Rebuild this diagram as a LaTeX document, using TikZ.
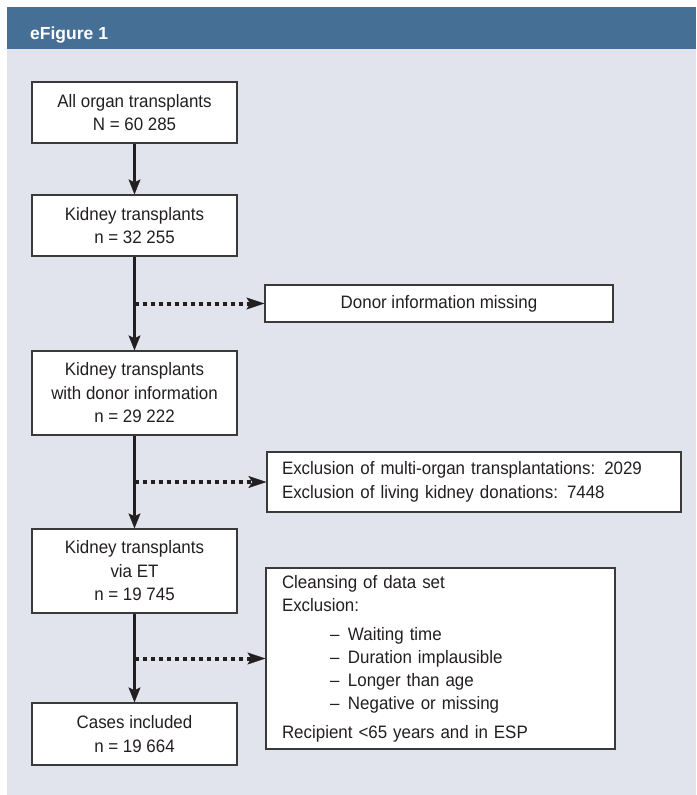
\documentclass[tikz,border=0pt]{standalone}
\usepackage{fontspec}
\setmainfont{Liberation Sans}
\newfontfamily\boxfont{Liberation Sans}[FakeStretch=0.94]
\usetikzlibrary{arrows.meta}
\definecolor{hdr}{HTML}{466F96}
\definecolor{bg}{HTML}{E1E4ED}
\definecolor{ink}{HTML}{231F20}
\definecolor{edge}{HTML}{3A3A3A}
\begin{document}
\begin{tikzpicture}[x=1pt,y=-1pt,
  box/.style={draw=edge, line width=1.3pt, fill=white, text=ink, align=center, inner sep=0pt,
    font=\boxfont\fontsize{18}{23.5}\selectfont},
  mainbox/.style={box, minimum width=205pt},
  mainarrow/.style={draw=ink, line width=3.5pt, -{Stealth[length=15pt,width=12pt,inset=3pt,line width=0.3pt]}},
  dotarrow/.style={draw=ink, line width=4pt, dash pattern=on 4pt off 4pt,
    -{Stealth[length=18pt,width=12pt,inset=4pt,line width=0.3pt]}},
]
\useasboundingbox (0,0) rectangle (696,795);
\fill[white] (0,0) rectangle (696,795);
\fill[bg] (7,49) rectangle (696,795);
\fill[hdr] (7,7) rectangle (696,49);
\node[anchor=base west, inner sep=0pt, text=white, font=\fontsize{17.5}{20}\selectfont\bfseries] (title) at (30,39) {eFigure 1};

\node[mainbox, minimum height=61pt] (b1) at (134.5,112.5) {All organ transplants\\N = 60 285};
\node[mainbox, minimum height=61pt] (b2) at (134.5,225.5) {Kidney transplants\\n = 32 255};
\node[mainbox, minimum height=84pt] (b3) at (134.5,393) {Kidney transplants\\with donor information\\n = 29 222};
\node[mainbox, minimum height=84pt] (b4) at (134.5,571) {Kidney transplants\\via ET\\n = 19 745};
\node[mainbox, minimum height=62pt] (b5) at (134.5,734) {Cases included\\n = 19 664};

\node[box, minimum width=348pt, minimum height=37pt] (miss) at (439,303.5) {Donor information missing};
\node[box, minimum width=414pt, minimum height=60pt, text width=384pt, align=left] (excl) at (474,482)
  {Exclusion of multi-organ transplantations: 2029\\Exclusion of living kidney donations: 7448};
\node[box, minimum width=349pt, minimum height=181pt, text width=317pt, align=left,
  font=\boxfont\fontsize{18}{23}\selectfont] (clean) at (440.5,658.5)
  {Cleansing of data set\\Exclusion:\\[6pt]
   \hspace*{48pt}\makebox[18pt][l]{–}Waiting time\\
   \hspace*{48pt}\makebox[18pt][l]{–}Duration implausible\\
   \hspace*{48pt}\makebox[18pt][l]{–}Longer than age\\
   \hspace*{48pt}\makebox[18pt][l]{–}Negative or missing\\[6pt]
   Recipient <65 years and in ESP};

\draw[mainarrow] (b1.south) -- (b2.north);
\draw[mainarrow] (b2.south) -- (b3.north);
\draw[mainarrow] (b3.south) -- (b4.north);
\draw[mainarrow] (b4.south) -- (b5.north);
\draw[dotarrow] (b2.south |- miss.west) -- (miss.west);
\draw[dotarrow] (b3.south |- excl.west) -- (excl.west);
\draw[dotarrow] (b4.south |- clean.west) -- (clean.west);
\end{tikzpicture}
\end{document}
